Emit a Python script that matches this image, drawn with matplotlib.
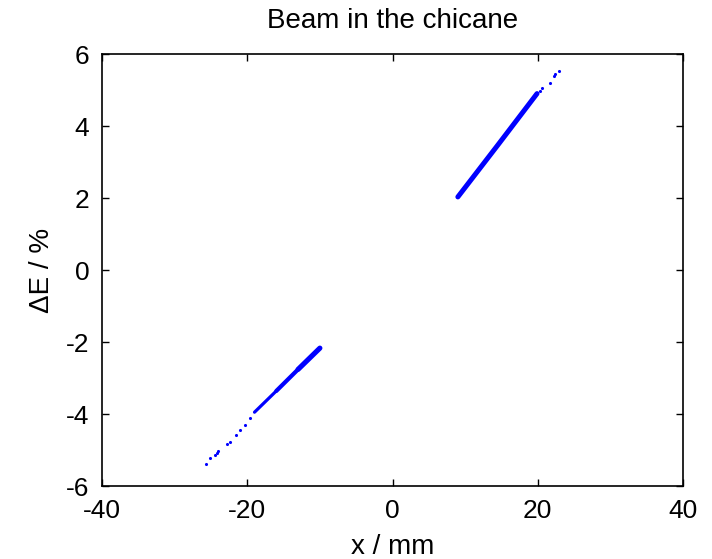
import matplotlib
matplotlib.use("Agg")
import matplotlib.pyplot as plt

plt.rcParams['font.family'] = ['Liberation Sans', 'DejaVu Sans']
plt.rcParams['axes.unicode_minus'] = False

# Lower beam branch: dense core (centreline) and sparse tail particles
lower_core_x = [-19.0, -16.0, -13.0, -10.0]
lower_core_y = [-3.95, -3.36, -2.76, -2.17]
lower_tail_x = [-25.7, -25.1, -24.5, -24.2, -24.0, -22.8, -22.4, -21.6, -21.0, -20.3, -19.6]
lower_tail_y = [-5.38, -5.22, -5.14, -5.08, -5.02, -4.84, -4.78, -4.58, -4.45, -4.30, -4.12]

# Upper beam branch
upper_core_x = [9.0, 14.5, 19.9]
upper_core_y = [2.03, 3.47, 4.90]
upper_tail_x = [20.3, 20.6, 21.7, 22.2, 22.4, 22.9]
upper_tail_y = [4.98, 5.05, 5.20, 5.40, 5.44, 5.53]

xticks = [-40, -20, 0, 20, 40]
yticks = [-6, -4, -2, 0, 2, 4, 6]

fig = plt.figure(figsize=(7.12, 5.59), dpi=100)
ax = fig.add_axes([102/712, 1-486/559, 581/712, 432/559])

blue = '#0000ff'
core_widths = [2.3, 3.0, 3.7]
for i, w in enumerate(core_widths):
    ax.plot(lower_core_x[i:i + 2], lower_core_y[i:i + 2], color=blue, lw=w,
            solid_capstyle='round')
ax.plot(upper_core_x, upper_core_y, color=blue, lw=3.6, solid_capstyle='round')
ax.scatter(lower_tail_x, lower_tail_y, color=blue, s=5, linewidths=0)
ax.scatter(upper_tail_x, upper_tail_y, color=blue, s=5, linewidths=0)

ax.set_xlim(-40, 40)
ax.set_ylim(-6, 6)
ax.set_xticks(xticks)
ax.set_yticks(yticks)
ax.tick_params(direction='in', length=5, width=1, top=True, right=True,
               labelsize=19, pad=9)
for s in ax.spines.values():
    s.set_linewidth(1.2)
ax.set_xlabel('x / mm', fontsize=20, labelpad=8)
ax.set_ylabel('ΔE / %', fontsize=20, labelpad=8)
ax.set_title('Beam in the chicane', fontsize=20, pad=19)

fig.savefig('out.png', dpi=100)
